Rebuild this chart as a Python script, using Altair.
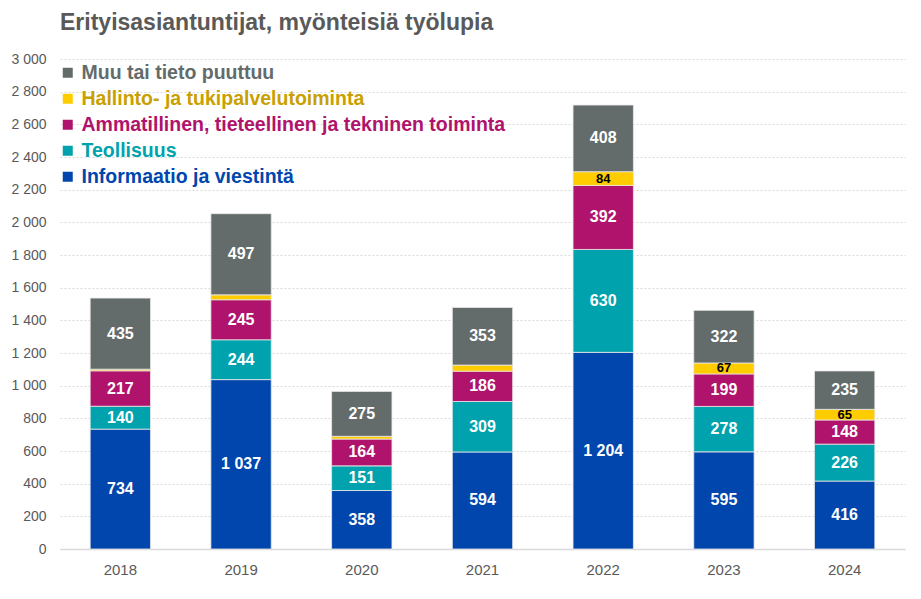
import altair as alt
import pandas as pd

years = ["2018", "2019", "2020", "2021", "2022", "2023", "2024"]
informaatio = [734, 1037, 358, 594, 1204, 595, 416]
teollisuus = [140, 244, 151, 309, 630, 278, 226]
ammatillinen = [217, 245, 164, 186, 392, 199, 148]
hallinto = [10, 30, 17, 37, 84, 67, 65]
muu = [435, 497, 275, 353, 408, 322, 235]

series = [
    "Informaatio ja viestintä",
    "Teollisuus",
    "Ammatillinen, tieteellinen ja tekninen toiminta",
    "Hallinto- ja tukipalvelutoiminta",
    "Muu tai tieto puuttuu",
]
values = [informaatio, teollisuus, ammatillinen, hallinto, muu]
fill_colors = ["#0046AD", "#00A3AD", "#B0136B", "#FFCC00", "#636B6B"]
label_colors = ["#0046AD", "#00A3AD", "#B0136B", "#C9A000", "#636B6B"]
y_ticks = list(range(0, 3001, 200))

rows = []
for si, (s, vals) in enumerate(zip(series, values)):
    for y, v in zip(years, vals):
        rows.append({"year": y, "series": s, "value": v, "order": si})
df = pd.DataFrame(rows)

font = "Liberation Sans"

label_expr = " : ".join(
    f"datum.value == '{s}' ? '{c}'" for s, c in zip(series[:-1], label_colors[:-1])
) + f" : '{label_colors[-1]}'"

color_scale = alt.Scale(domain=series, range=fill_colors)
y_scale = alt.Scale(domain=[0, 3000])
x_scale = alt.Scale(paddingInner=0.5, paddingOuter=0.25)

x_axis = alt.Axis(labelAngle=0, labelFontSize=15, labelColor="#595959", labelFont=font,
                  domainColor="#D9D9D9", domainWidth=1.5, ticks=False, labelPadding=13)
y_axis = alt.Axis(values=y_ticks, labelFontSize=14,
                  labelColor="#595959", labelFont=font, domain=False, ticks=False,
                  labelPadding=14, gridColor="#D9D9D9", gridDash=[2, 2],
                  labelOverlap=False,
                  labelExpr="replace(format(datum.value, ','), ',', ' ')")

base = alt.Chart(df).transform_stack(
    stack="value", groupby=["year"], sort=[alt.SortField("order", "ascending")],
    as_=["y0", "y1"]
).transform_calculate(
    mid="(datum.y0 + datum.y1) / 2",
    lbl="replace(format(datum.value, ','), ',', ' ')",
)

def xenc():
    return alt.X("year:N", title=None, sort=years, scale=x_scale, axis=x_axis)

bars = base.mark_bar(stroke="#E8E8E8", strokeWidth=0.8).encode(
    x=xenc(),
    y=alt.Y("y0:Q", title=None, scale=y_scale, axis=y_axis),
    y2="y1:Q",
    color=alt.Color("series:N", scale=color_scale, sort=list(reversed(series)),
                    legend=alt.Legend(
                        title=None, orient="none", legendX=-2, legendY=4,
                        values=list(reversed(series)),
                        labelFontSize=19.5, labelFont=font, labelFontWeight="bold",
                        labelColor={"expr": label_expr},
                        symbolType="square", symbolSize=100, symbolStrokeWidth=0,
                        rowPadding=5, labelLimit=700, symbolOffset=0, labelOffset=4)),
)

white_labels = base.transform_filter(
    "datum.series != 'Hallinto- ja tukipalvelutoiminta'"
).mark_text(color="white", fontSize=16, fontWeight="bold", font=font, baseline="middle").encode(
    x=xenc(),
    y=alt.Y("mid:Q", title=None, scale=y_scale, axis=y_axis),
    text="lbl:N",
)

black_labels = base.transform_filter(
    "datum.series == 'Hallinto- ja tukipalvelutoiminta' && datum.value >= 60"
).mark_text(color="black", fontSize=13, fontWeight="bold", font=font, baseline="middle").encode(
    x=xenc(),
    y=alt.Y("mid:Q", title=None, scale=y_scale, axis=y_axis),
    text="lbl:N",
)

chart = alt.layer(bars, white_labels, black_labels).properties(
    width=845, height=490,
    title=alt.TitleParams("Erityisasiantuntijat, myönteisiä työlupia", anchor="start",
                          frame="group",
                          fontSize=23, font=font, fontWeight="bold", color="#595959",
                          offset=17),
    padding={"left": 2, "top": 4, "right": 5, "bottom": 5},
).configure_view(stroke=None)

chart.save("out.html", embed_options={"renderer": "svg", "actions": False})
